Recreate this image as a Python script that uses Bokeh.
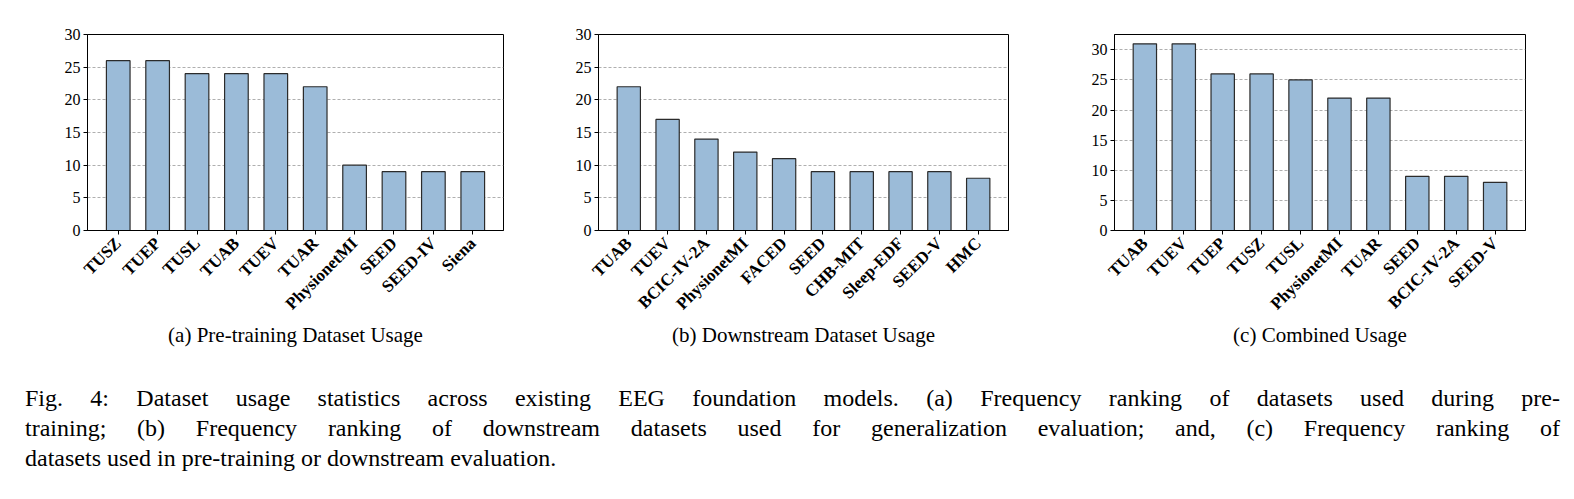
import math
from bokeh.plotting import figure
from bokeh.models import ColumnDataSource, FixedTicker, Range1d, Div
from bokeh.layouts import row, column
from bokeh.embed import file_html
from bokeh.resources import INLINE

# ---- data ----
pre_names = ["TUSZ", "TUEP", "TUSL", "TUAB", "TUEV", "TUAR", "PhysionetMI", "SEED", "SEED-IV", "Siena"]
pre_counts = [26, 26, 24, 24, 24, 22, 10, 9, 9, 9]

down_names = ["TUAB", "TUEV", "BCIC-IV-2A", "PhysionetMI", "FACED", "SEED", "CHB-MIT", "Sleep-EDF", "SEED-V", "HMC"]
down_counts = [22, 17, 14, 12, 11, 9, 9, 9, 9, 8]

comb_names = ["TUAB", "TUEV", "TUEP", "TUSZ", "TUSL", "PhysionetMI", "TUAR", "SEED", "BCIC-IV-2A", "SEED-V"]
comb_counts = [31, 31, 26, 26, 25, 22, 22, 9, 9, 8]

y_ticks = [0, 5, 10, 15, 20, 25, 30]

sub_captions = ["(a) Pre-training Dataset Usage", "(b) Downstream Dataset Usage", "(c) Combined Usage"]
caption_lines = [
    "Fig. 4: Dataset usage statistics across existing EEG foundation models. (a) Frequency ranking of datasets used during pre-",
    "training; (b) Frequency ranking of downstream datasets used for generalization evaluation; and, (c) Frequency ranking of",
    "datasets used in pre-training or downstream evaluation.",
]

SERIF = "Liberation Serif"
BAR_FILL = "#9bbbd8"
BAR_EDGE = "#2b2b2b"


def make_panel(names, counts, ymax, width, left, right, top, caption):
    n = len(names)
    p = figure(width=width, height=355,
               x_range=Range1d(-0.78, n - 1 + 0.78), y_range=Range1d(0, ymax),
               output_backend="svg", toolbar_location=None,
               min_border_left=left, min_border_right=right,
               min_border_top=top, min_border_bottom=125)
    src = ColumnDataSource(dict(x=list(range(n)), top=counts, name=names))
    p.vbar(x="x", top="top", width=0.6, source=src,
           fill_color=BAR_FILL, line_color=BAR_EDGE, line_width=1.2)

    p.outline_line_color = "black"
    p.outline_line_width = 1
    p.background_fill_color = "white"
    p.border_fill_color = "white"

    p.xgrid.visible = False
    p.ygrid.ticker = FixedTicker(ticks=y_ticks)
    p.ygrid.grid_line_color = "#9a9a9a"
    p.ygrid.grid_line_dash = "3 2"
    p.ygrid.grid_line_width = 0.8

    p.yaxis.ticker = FixedTicker(ticks=y_ticks)
    p.yaxis.minor_tick_line_color = None
    p.yaxis.major_tick_in = 0
    p.yaxis.major_tick_out = 4
    p.yaxis.major_label_standoff = 3
    p.yaxis.major_label_text_font = SERIF
    p.yaxis.major_label_text_font_size = "16px"
    p.yaxis.major_label_text_color = "black"
    p.yaxis.axis_line_color = "black"

    p.xaxis.ticker = FixedTicker(ticks=list(range(n)))
    p.xaxis.major_label_overrides = {i: nm for i, nm in enumerate(names)}
    p.xaxis.major_label_orientation = math.pi / 4
    p.xaxis.minor_tick_line_color = None
    p.xaxis.major_tick_in = 0
    p.xaxis.major_tick_out = 4
    p.xaxis.major_label_standoff = 6
    p.xaxis.major_label_text_font = SERIF
    p.xaxis.major_label_text_font_style = "bold"
    p.xaxis.major_label_text_font_size = "17px"
    p.xaxis.major_label_text_color = "black"
    p.xaxis.axis_line_color = "black"

    p.xaxis.axis_label = caption
    p.xaxis.axis_label_text_font = SERIF
    p.xaxis.axis_label_text_font_style = "normal"
    p.xaxis.axis_label_text_font_size = "21px"
    p.xaxis.axis_label_text_color = "black"
    p.xaxis.axis_label_standoff = 0
    return p


pa = make_panel(pre_names, pre_counts, 30, 520, 87, 17, 29, sub_captions[0])
pb = make_panel(down_names, down_counts, 30, 530, 78, 42, 29, sub_captions[1])
pc = make_panel(comb_names, comb_counts, 32.55, 524, 64, 49, 34, sub_captions[2])

line_html = ""
for i, ln in enumerate(caption_lines):
    last = i == len(caption_lines) - 1
    align = "text-align:left;" if last else "text-align:justify;text-align-last:justify;"
    line_html += f'<div style="{align}">{ln}</div>'

cap = Div(text=f'<div style="width:1535px;margin-left:20px;margin-top:23px;'
               f'font-family:\'{SERIF}\';font-size:24px;line-height:30px;color:black;">{line_html}</div>',
          width=1574, height=144)

layout = column(row(pa, pb, pc), cap)

open("out.html", "w").write(file_html(layout, INLINE))
